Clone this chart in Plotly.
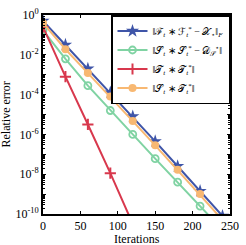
import plotly.graph_objects as go

iters = [0, 30, 60, 90, 120, 150, 180, 210, 240]
# log10 of relative error
log_F = [-0.3, -1.5, -2.7, -3.9, -5.1, -6.35, -7.6, -8.85, -10.1]
log_S = [-0.77, -2.2, -3.55, -4.8, -6.0, -7.22, -8.4, -9.6, -10.8]
iters_T = [0, 30, 60, 90, 120]
log_T = [-0.6, -3.1, -5.5, -7.95, -10.5]
log_ST = [-0.4, -1.72, -2.92, -4.1, -5.33, -6.55, -7.78, -9.0, -10.3]

names = [
    "‖ℱ<sub><i>t</i></sub> ∗ ℱ<sub><i>t</i></sub><sup>*</sup> − 𝒳<sub>⋆</sub>‖<sub><i>F</i></sub>",
    "‖𝒮<sub><i>t</i></sub> ∗ 𝒮<sub><i>t</i></sub><sup>*</sup> − 𝒟<sub>𝒮</sub><sup>⋆</sup>‖",
    "‖𝒯<sub><i>t</i></sub> ∗ 𝒯<sub><i>t</i></sub><sup>*</sup>‖",
    "‖𝒮<sub><i>t</i></sub> ∗ 𝒯<sub><i>t</i></sub><sup>*</sup>‖",
]

ytick_exp = list(range(-10, 1))

def tv(l):
    return [10 ** v for v in l]

fig = go.Figure()
fig.add_trace(go.Scatter(x=iters, y=tv(log_F), mode="lines+markers", name=names[0],
                         line=dict(color="#3f55a8", width=2),
                         marker=dict(symbol="star", size=10, color="#3f55a8")))
fig.add_trace(go.Scatter(x=iters, y=tv(log_S), mode="lines+markers", name=names[1],
                         line=dict(color="#80d3a3", width=2),
                         marker=dict(symbol="circle-open", size=7, color="#80d3a3",
                                     line=dict(width=1.8))))
fig.add_trace(go.Scatter(x=iters_T, y=tv(log_T), mode="lines+markers", name=names[2],
                         line=dict(color="#d8384d", width=2),
                         marker=dict(symbol="cross-thin", size=8, color="#d8384d",
                                     line=dict(width=2, color="#d8384d"))))
fig.add_trace(go.Scatter(x=iters, y=tv(log_ST), mode="lines+markers", name=names[3],
                         line=dict(color="#f8b872", width=2),
                         marker=dict(symbol="circle", size=8, color="#f8b872")))

minor_vals = [k * 10 ** e for e in range(-10, 0) for k in range(2, 10)]

fig.update_layout(
    width=246, height=245,
    margin=dict(l=43, r=9, t=7, b=31),
    plot_bgcolor="white", paper_bgcolor="white",
    font=dict(family="Liberation Serif", size=12, color="black"),
    showlegend=True,
    legend=dict(x=1, y=1, xanchor="right", yanchor="top",
                bgcolor="white", bordercolor="black", borderwidth=1.5,
                font=dict(size=10, family="Liberation Serif"),
                tracegroupgap=0, itemwidth=30),
    xaxis=dict(range=[0, 250], tickvals=[0, 50, 100, 150, 200, 250],
               ticks="inside", ticklen=3, tickwidth=1, tickcolor="black",
               showline=True, linecolor="black", linewidth=2, mirror="ticks",
               showgrid=False, zeroline=False, tickfont=dict(size=12)),
    yaxis=dict(type="log", range=[-10, 0],
               tickvals=[10 ** e for e in ytick_exp],
               ticktext=[("10<sup>%d</sup>" % e) if e % 2 == 0 else "" for e in ytick_exp],
               ticks="inside", ticklen=3, tickwidth=1, tickcolor="black",
               showline=True, linecolor="black", linewidth=2, mirror="ticks",
               showgrid=False, zeroline=False,
               minor=dict(tickmode="array", tickvals=minor_vals, ticks="inside",
                          ticklen=2, tickcolor="black", showgrid=False),
               tickfont=dict(size=12)),
    annotations=[
        dict(text="Iterations", xref="paper", yref="paper", x=0.5, y=0,
             xanchor="center", yanchor="top", yshift=-16, showarrow=False,
             font=dict(size=12)),
        dict(text="Relative error", xref="paper", yref="paper", x=0, y=0.5,
             xanchor="right", yanchor="middle", xshift=-29, textangle=-90,
             showarrow=False, font=dict(size=12)),
    ],
)

fig.write_html("out.html", config={"displayModeBar": False},
               post_script="document.body.style.margin='0';document.body.style.overflow='hidden';")
